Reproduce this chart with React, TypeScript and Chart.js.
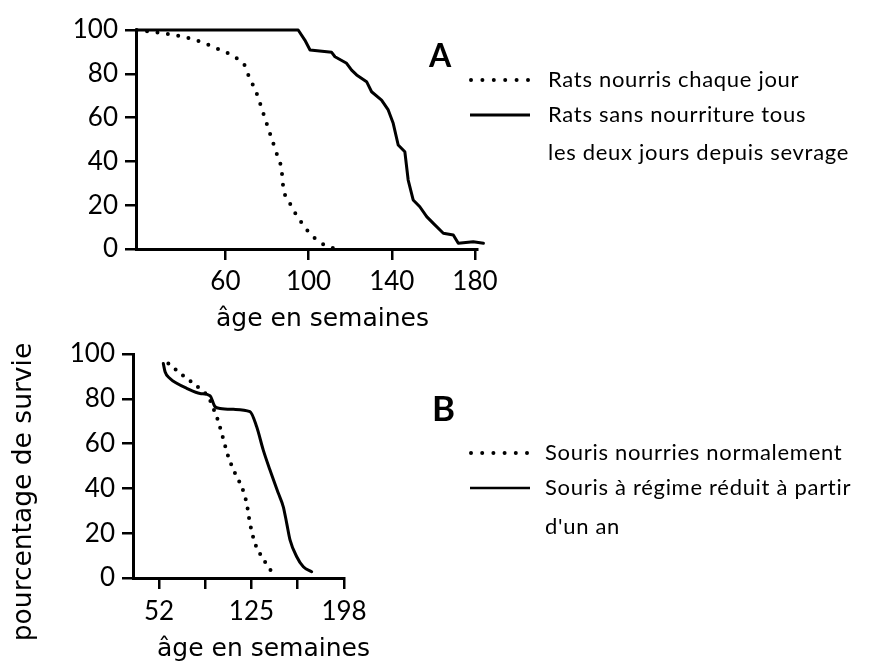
import React, { useEffect, useRef } from "react";
import { Chart, registerables } from "chart.js";

Chart.register(...registerables);

// ---- Panel A (rats) ----
const ratsDailyWeeks = [17.3, 30.1, 44.5, 55.8, 66.2, 69.4, 71.0, 75.0, 78.2, 81.4, 84.6, 87.0, 87.8, 91.0, 95.8, 102.2, 109.4, 115.1];
const ratsDailySurvival = [100, 98.5, 95.7, 91.6, 86.6, 83.6, 79.5, 71.1, 62.0, 52.8, 43.7, 36.1, 28.5, 20.9, 13.2, 5.6, 1.1, 0];

const ratsFastWeeks = [17, 95.0, 98.2, 100.7, 111.1, 112.7, 118.3, 120.7, 123.1, 127.9, 130.3, 135.1, 138.3, 140.7, 143.1, 146.3, 147.9, 150.3, 153.5, 156.8, 160.0, 164.8, 169.6, 172.0, 179.2, 184.1, 190.4];
const ratsFastSurvival = [100, 100, 95.4, 90.9, 89.8, 87.8, 84.8, 81.7, 79.5, 76.4, 71.8, 68.0, 63.5, 57.4, 47.5, 44.4, 31.5, 22.4, 19.3, 14.8, 11.7, 7.2, 6.4, 2.6, 3.3, 2.6, 0];

const ticksA_x = [60, 100, 140, 180];
const ticksY = [0, 20, 40, 60, 80, 100];

// ---- Panel B (mice) ----
const miceNormalWeeks = [59.4, 68.6, 79.1, 87.0, 91.0, 94.9, 97.6, 101.5, 106.7, 113.3, 117.3, 121.2, 123.8, 127.8, 133.1, 138.3, 143.6];
const miceNormalSurvival = [95.8, 91.4, 86.9, 83.2, 80.9, 75.7, 72.0, 64.6, 54.2, 45.2, 40.8, 33.3, 24.4, 15.5, 9.5, 5.0, 0.6];

const miceReducedWeeks = [55.4, 56.8, 60.7, 66.0, 73.8, 84.4, 92.3, 96.2, 100.2, 110.7, 123.8, 129.1, 134.3, 139.6, 146.2, 150.1, 152.8, 155.4, 160.7, 165.9, 172.5];
const miceReducedSurvival = [95.8, 92.1, 89.1, 86.9, 84.7, 82.4, 81.4, 76.5, 75.7, 75.3, 74.3, 67.5, 57.1, 48.2, 37.8, 31.8, 24.4, 17.0, 9.5, 5.0, 2.8];

const ticksB_x = [52, 88.5, 125, 161.5, 198];
const labelsB_x = [52, 125, 198];

const legendA = ["Rats nourris chaque jour", "Rats sans nourriture tous", "les deux jours depuis sevrage"];
const legendB = ["Souris nourries normalement", "Souris à régime réduit à partir", "d'un an"];
const xTitle = "âge en semaines";
const yTitle = "pourcentage de survie";

const zip = (xs: number[], ys: number[]) => xs.map((x, i) => ({ x, y: ys[i] }));

const TICK_FONT = { family: "Lato, 'Noto Sans', sans-serif", size: 26 };

function makeOptions(opts: {
  xmin: number; xmax: number; xticks: number[]; xlabels?: number[];
  yWidth: number; xHeight: number; padding: any; xPad: number;
}) {
  const grid = {
    display: true,
    drawOnChartArea: false,
    drawTicks: true,
    tickLength: 11,
    color: "#000",
    lineWidth: 2.5,
  };
  return {
    responsive: false,
    animation: false as const,
    layout: { padding: opts.padding },
    plugins: { legend: { display: false }, tooltip: { enabled: false } },
    elements: { point: { radius: 0 } },
    scales: {
      x: {
        type: "linear" as const,
        min: opts.xmin,
        max: opts.xmax,
        grid,
        border: { display: true, color: "#000", width: 3 },
        afterBuildTicks: (s: any) => { s.ticks = opts.xticks.map((v) => ({ value: v })); },
        afterFit: (s: any) => { s.height = opts.xHeight; },
        ticks: {
          color: "#000",
          font: TICK_FONT,
          padding: opts.xPad,
          autoSkip: false,
          maxRotation: 0,
          callback: (v: any) => (opts.xlabels ? (opts.xlabels.includes(Number(v)) ? String(v) : "") : String(v)),
        },
      },
      y: {
        type: "linear" as const,
        min: 0,
        max: 100,
        grid,
        border: { display: true, color: "#000", width: 3 },
        afterBuildTicks: (s: any) => { s.ticks = ticksY.map((v) => ({ value: v })); },
        afterFit: (s: any) => { s.width = opts.yWidth; },
        ticks: { color: "#000", font: TICK_FONT, padding: 7, autoSkip: false },
      },
    },
  };
}

const dotted = {
  borderColor: "#000",
  borderWidth: 4,
  borderDash: [0, 10.5],
  borderCapStyle: "round" as const,
  cubicInterpolationMode: "monotone" as const,
  fill: false,
  clip: false as any,
};
const solid = {
  borderColor: "#000",
  borderWidth: 3,
  tension: 0,
  borderJoinStyle: "round" as const,
  borderCapStyle: "round" as const,
  fill: false,
  clip: false as any,
};

export default function App() {
  const refA = useRef<HTMLCanvasElement | null>(null);
  const refB = useRef<HTMLCanvasElement | null>(null);

  useEffect(() => {
    const a = new Chart(refA.current!, {
      type: "line",
      data: {
        datasets: [
          { ...dotted, data: zip(ratsDailyWeeks, ratsDailySurvival) },
          { ...solid, data: zip(ratsFastWeeks, ratsFastSurvival) },
        ],
      },
      options: makeOptions({
        xmin: 17, xmax: 181, xticks: ticksA_x,
        yWidth: 136, xHeight: 61, xPad: 6,
        padding: { top: 30, left: 0, right: 63, bottom: 0 },
      }) as any,
    });
    const b = new Chart(refB.current!, {
      type: "line",
      data: {
        datasets: [
          { ...dotted, borderDash: [0, 9.5], data: zip(miceNormalWeeks, miceNormalSurvival) },
          { ...solid, cubicInterpolationMode: "monotone" as const, data: zip(miceReducedWeeks, miceReducedSurvival) },
        ],
      },
      options: makeOptions({
        xmin: 31.5, xmax: 198, xticks: ticksB_x, xlabels: labelsB_x,
        yWidth: 133, xHeight: 85, xPad: 7,
        padding: { top: 24, left: 0, right: 56, bottom: 0 },
      }) as any,
    });
    return () => { a.destroy(); b.destroy(); };
  }, []);

  const legendFont: React.CSSProperties = {
    position: "absolute",
    fontFamily: "Lato, 'Noto Sans', sans-serif",
    fontSize: 22,
    letterSpacing: "0.7px",
    lineHeight: "26px",
    whiteSpace: "nowrap",
    color: "#000",
  };
  const titleFont: React.CSSProperties = {
    position: "absolute",
    fontFamily: "'DejaVu Sans', sans-serif",
    fontSize: 25,
    lineHeight: "26px",
    whiteSpace: "nowrap",
    color: "#000",
  };
  const big: React.CSSProperties = {
    position: "absolute",
    fontFamily: "Lato, 'Noto Sans', sans-serif",
    fontWeight: 700,
    lineHeight: "1",
    color: "#000",
  };

  return (
    <div style={{ position: "absolute", left: 0, top: 0, width: 873, height: 663, background: "#fff", overflow: "hidden" }}>
      <canvas ref={refA} width={540} height={310} style={{ position: "absolute", left: 0, top: 0, width: 540, height: 310 }} />
      <canvas ref={refB} width={400} height={333} style={{ position: "absolute", left: 0, top: 330, width: 400, height: 333 }} />

      <svg width={873} height={663} style={{ position: "absolute", left: 0, top: 0, pointerEvents: "none" }}>
        <line x1={471} y1={80} x2={528} y2={80} stroke="#000" strokeWidth={4} strokeDasharray="0 11.4" strokeLinecap="round" />
        <line x1={470} y1={115} x2={530} y2={115} stroke="#000" strokeWidth={3} />
        <line x1={471} y1={453} x2={527} y2={453} stroke="#000" strokeWidth={4} strokeDasharray="0 11.2" strokeLinecap="round" />
        <line x1={470} y1={488} x2={530} y2={488} stroke="#000" strokeWidth={2.5} />
      </svg>

      <div style={{ ...big, left: 429, top: 39, fontSize: 32 }}>A</div>
      <div style={{ ...big, left: 432, top: 390, fontSize: 35 }}>B</div>

      <div style={{ ...legendFont, left: 548, top: 80 - 14 }}>{legendA[0]}</div>
      <div style={{ ...legendFont, left: 548, top: 115 - 14 }}>{legendA[1]}</div>
      <div style={{ ...legendFont, left: 548, top: 153 - 14 }}>{legendA[2]}</div>

      <div style={{ ...legendFont, left: 545, top: 453 - 14 }}>{legendB[0]}</div>
      <div style={{ ...legendFont, left: 545, top: 488 - 14 }}>{legendB[1]}</div>
      <div style={{ ...legendFont, left: 545, top: 527 - 14 }}>{legendB[2]}</div>

      <div style={{ ...titleFont, left: 216, top: 305 }}>{xTitle}</div>
      <div style={{ ...titleFont, left: 157, top: 635 }}>{xTitle}</div>

      <div
        style={{
          ...titleFont,
          fontSize: 26.5,
          left: 22 - 170,
          top: 492 - 13,
          width: 340,
          textAlign: "center",
          transform: "rotate(-90deg)",
          transformOrigin: "50% 50%",
        }}
      >
        {yTitle}
      </div>
    </div>
  );
}
